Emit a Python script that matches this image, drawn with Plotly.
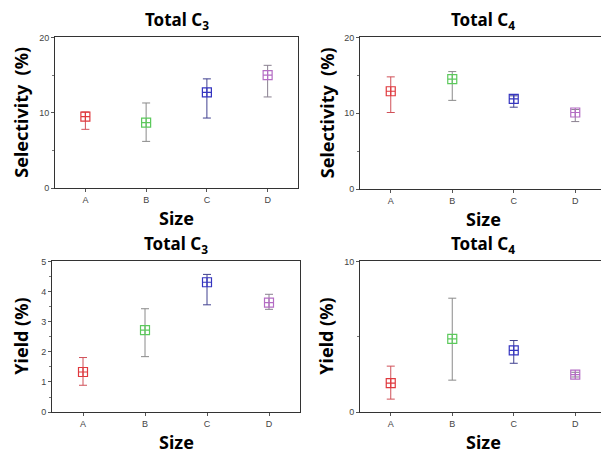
import plotly.graph_objects as go

categories = ["A", "B", "C", "D"]
colors = ["#e0393e", "#5cc95c", "#3535c0", "#b46cc4"]
err_colors = ["#d05058", "#8a8a8a", "#404090", "#8a8090"]

# Selectivity C3
sel_c3 = [9.5, 8.7, 12.7, 15.0]
sel_c3_up = [10.1, 11.3, 14.5, 16.3]
sel_c3_lo = [7.8, 6.2, 9.3, 12.1]
# Selectivity C4
sel_c4 = [12.9, 14.5, 11.9, 10.1]
sel_c4_up = [14.8, 15.5, 12.3, 10.5]
sel_c4_lo = [10.1, 11.7, 10.8, 8.9]
# Yield C3
yld_c3 = [1.33, 2.72, 4.31, 3.63]
yld_c3_up = [1.81, 3.43, 4.57, 3.91]
yld_c3_lo = [0.89, 1.84, 3.56, 3.41]
# Yield C4
yld_c4 = [1.92, 4.86, 4.10, 2.48]
yld_c4_up = [3.05, 7.56, 4.75, 2.64]
yld_c4_lo = [0.86, 2.12, 3.24, 2.33]

panels = [
    dict(vals=sel_c3, up=sel_c3_up, lo=sel_c3_lo, title="Total C<sub>3</sub>", ytitle="Selectivity  (%)",
         yr=[0, 20], dtick=10, minor=5, px=(55, 298), py=(33, 187), ytx=21),
    dict(vals=sel_c4, up=sel_c4_up, lo=sel_c4_lo, title="Total C<sub>4</sub>", ytitle="Selectivity  (%)",
         yr=[0, 20], dtick=10, minor=5, px=(360, 606), py=(33, 188), ytx=327),
    dict(vals=yld_c3, up=yld_c3_up, lo=yld_c3_lo, title="Total C<sub>3</sub>", ytitle="Yield (%)",
         yr=[0, 5], dtick=1, minor=0.5, px=(52, 300), py=(262, 416), ytx=21),
    dict(vals=yld_c4, up=yld_c4_up, lo=yld_c4_lo, title="Total C<sub>4</sub>", ytitle="Yield (%)",
         yr=[0, 10], dtick=10, minor=5, px=(360, 606), py=(262, 416), ytx=326),
]

OFF = 8  # page body margin
W, H = 609 - OFF, 465 - OFF
fig = go.Figure()
layout = dict(
    width=W, height=H, margin=dict(l=0, r=0, t=0, b=0),
    paper_bgcolor="white", plot_bgcolor="white", showlegend=False,
    font=dict(family="Liberation Sans, Arial", size=9, color="#444"),
)
annotations = []
title_font = dict(family="Noto Sans", size=17, color="black")
ax_font = dict(family="Noto Sans", size=18, color="black")

for i, p in enumerate(panels):
    n = "" if i == 0 else str(i + 1)
    xa, ya = "x" + n, "y" + n
    for j, c in enumerate(categories):
        v = p["vals"][j]
        fig.add_trace(go.Scatter(
            x=[c], y=[v], xaxis=xa, yaxis=ya, mode="markers",
            marker=dict(symbol="square-cross-open", size=9, color=colors[j], line=dict(width=1.2)),
            error_y=dict(type="data", symmetric=False, array=[p["up"][j] - v], arrayminus=[v - p["lo"][j]],
                         color=err_colors[j], thickness=1, width=4),
        ))
    x0, x1 = (p["px"][0] - OFF) / W, (p["px"][1] - OFF) / W
    y0, y1 = 1 - (p["py"][1] - OFF) / H, 1 - (p["py"][0] - OFF) / H
    layout["xaxis" + n] = dict(
        domain=[x0, x1], anchor=ya, type="category", categoryorder="array", categoryarray=categories,
        range=[-0.5, 3.5], showgrid=False, zeroline=False, showline=True, mirror=True,
        linecolor="#333", linewidth=1, ticks="outside", ticklen=3, tickcolor="#555",
        tickfont=dict(size=9, color="#444"),
    )
    layout["yaxis" + n] = dict(
        domain=[y0, y1], anchor=xa, range=p["yr"], dtick=p["dtick"], tick0=0,
        showgrid=False, zeroline=False, showline=True, mirror=True,
        linecolor="#333", linewidth=1, ticks="outside", ticklen=3, tickcolor="#555",
        tickfont=dict(size=9, color="#444"),
        minor=dict(dtick=p["minor"], ticks="outside", ticklen=2, tickcolor="#777", showgrid=False),
    )
    xc = (x0 + x1) / 2
    annotations.append(dict(text="<b>" + p["title"] + "</b>", x=xc, y=y1 + 3 / H, xref="paper", yref="paper",
                            xanchor="center", yanchor="bottom", showarrow=False, font=title_font))
    annotations.append(dict(text="<b>Size</b>", x=xc, y=y0 - 16 / H, xref="paper", yref="paper",
                            xanchor="center", yanchor="top", showarrow=False, font=ax_font))
    annotations.append(dict(text="<b>" + p["ytitle"] + "</b>", x=(p["ytx"] - OFF) / W, y=(y0 + y1) / 2,
                            xref="paper", yref="paper", xanchor="center", yanchor="middle",
                            textangle=-90, showarrow=False, font=ax_font))

layout["annotations"] = annotations
fig.update_layout(**layout)
fig.write_html("out.html")
